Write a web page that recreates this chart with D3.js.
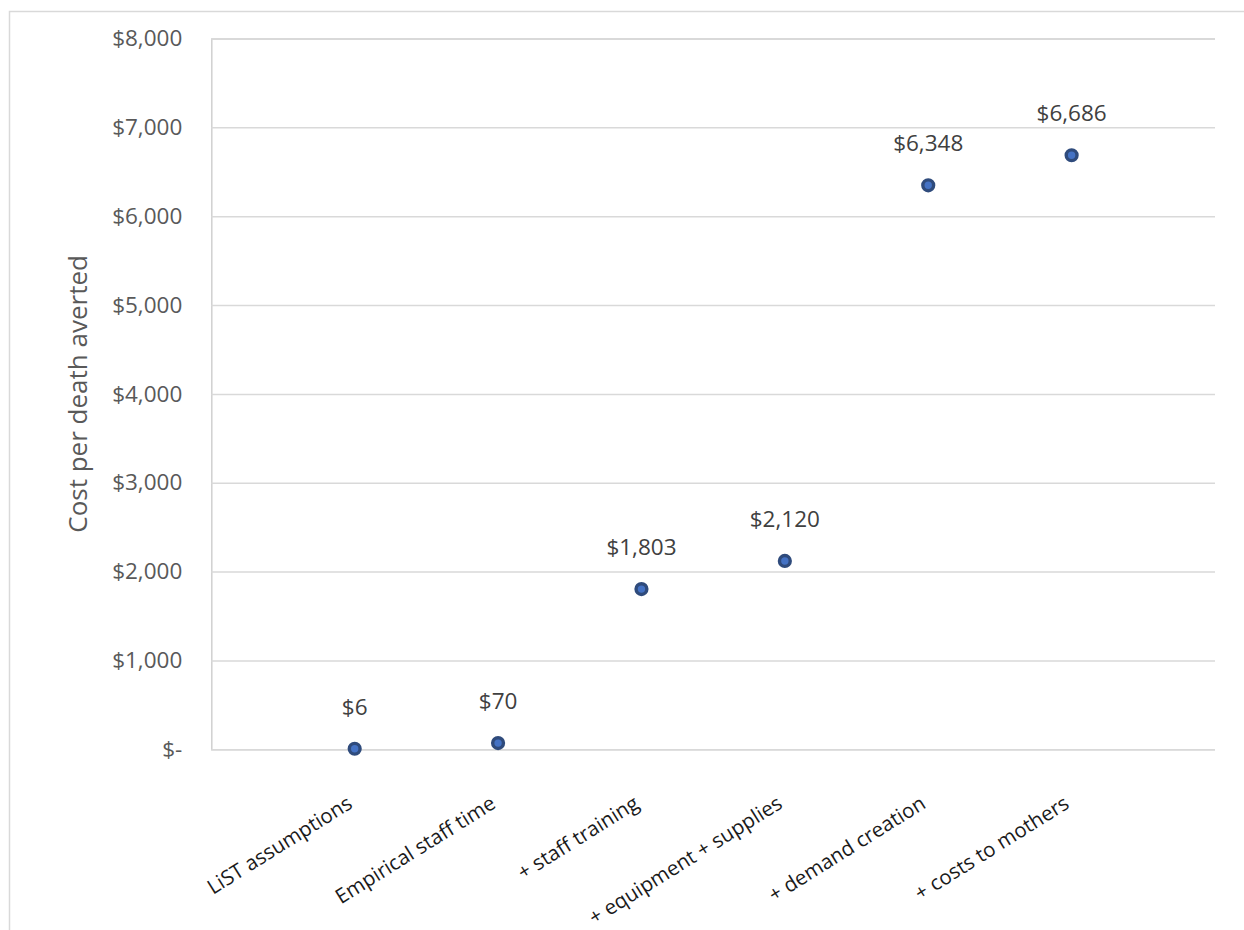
<!DOCTYPE html>
<html>
<head>
<meta charset="utf-8">
<script src="https://cdn.jsdelivr.net/npm/d3@7"></script>
<style>
  html, body { margin: 0; padding: 0; background: #fff; }
  svg { display: block; font-family: "Open Sans", sans-serif; }
</style>
</head>
<body>
<svg id="chart" width="1244" height="930"></svg>
<script>
// ---- data ----
const categories = [
  "LiST assumptions",
  "Empirical staff time",
  "+ staff training",
  "+ equipment + supplies",
  "+ demand creation",
  "+ costs to mothers"
];
const costs = [6, 70, 1803, 2120, 6348, 6686];
const yTickValues = [0, 1000, 2000, 3000, 4000, 5000, 6000, 7000, 8000];
const yTitle = "Cost per death averted";

// ---- layout ----
const svg = d3.select("#chart");
const plot = { left: 211.3, right: 1215, top: 38.5, bottom: 749.3 };

// outer frame
svg.append("rect")
  .attr("x", 9.5).attr("y", 11.5)
  .attr("width", 1260).attr("height", 940)
  .attr("fill", "none").attr("stroke", "#d9d9d9").attr("stroke-width", 1.5);

const x = d3.scaleLinear().domain([0, categories.length + 1]).range([plot.left, plot.right]);
const y = d3.scaleLinear().domain([0, 8000]).range([plot.bottom, plot.top]);

const fmt = v => v === 0 ? "$-" : "$" + d3.format(",")(v);

// gridlines + tick labels
const yAxis = d3.axisLeft(y)
  .tickValues(yTickValues)
  .tickSize(-(plot.right - plot.left))
  .tickPadding(29)
  .tickFormat(fmt);

const gy = svg.append("g")
  .attr("transform", `translate(${plot.left},0)`)
  .call(yAxis);
gy.select(".domain").attr("stroke", "#d0d0d0").attr("stroke-width", 1.5);
gy.selectAll(".tick line").attr("stroke", "#d9d9d9").attr("stroke-width", 1.5);
gy.selectAll(".tick text")
  .attr("fill", "#595959")
  .style("font-size", "22.5px")
  .style("font-family", "'Open Sans', sans-serif");

// y axis title
svg.append("text")
  .attr("transform", `translate(87, ${(plot.top + plot.bottom) / 2}) rotate(-90)`)
  .attr("text-anchor", "middle")
  .attr("fill", "#595959")
  .style("font-size", "26px")
  .text(yTitle);

// points
const data = categories.map((c, i) => ({ c, v: costs[i], i }));

svg.append("g").selectAll("circle")
  .data(data)
  .enter().append("circle")
  .attr("cx", d => x(d.i + 1))
  .attr("cy", d => y(d.v))
  .attr("r", 5.4)
  .attr("fill", "#4472c4")
  .attr("stroke", "#2f4b7c")
  .attr("stroke-width", 3.4);

// data labels
svg.append("g").selectAll("text")
  .data(data)
  .enter().append("text")
  .attr("x", d => x(d.i + 1))
  .attr("y", d => y(d.v) - 34)
  .attr("text-anchor", "middle")
  .attr("fill", "#404040")
  .style("font-size", "22.5px")
  .text(d => "$" + d3.format(",")(d.v));

// category labels (rotated)
svg.append("g").selectAll("text")
  .data(data)
  .enter().append("text")
  .attr("transform", d => `translate(${x(d.i + 1) - 1}, 807) rotate(-32)`)
  .attr("text-anchor", "end")
  .attr("fill", "#1a1a1a")
  .style("font-size", "20.5px")
  .text(d => d.c);
</script>
</body>
</html>
